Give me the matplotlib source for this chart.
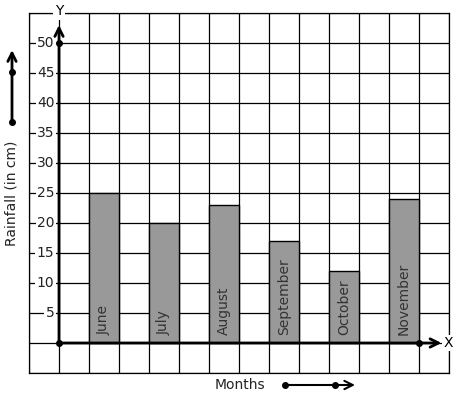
import matplotlib.pyplot as plt
from matplotlib.lines import Line2D

# Rainfall per month (cm)
months = ['June', 'July', 'August', 'September', 'October', 'November']
rainfall = [25, 20, 23, 17, 12, 24]
y_ticks = [5, 10, 15, 20, 25, 30, 35, 40, 45, 50]

W, H = 457, 399
fig = plt.figure(figsize=(W / 100, H / 100), dpi=100)
ax = fig.add_axes([29 / W, 1 - 373 / H, 420 / W, 360 / H])
ax.set_xlim(-1, 13)
ax.set_ylim(-5, 55)

# Square grid
for gx in range(-1, 14):
    ax.axvline(gx, color='black', lw=0.9, zorder=1)
for gy in range(-5, 56, 5):
    ax.axhline(gy, color='black', lw=0.9, zorder=1)
ax.set_xticks([])
ax.set_yticks([])
for s in ax.spines.values():
    s.set_linewidth(0.9)

# Bars: one column gap between each
positions = [1 + 2 * i for i in range(len(months))]
ax.bar(positions, rainfall, width=1, align='edge', color='#999999',
       edgecolor='black', linewidth=1, zorder=2)
for p, m in zip(positions, months):
    ax.text(p + 0.5, 1.3, m, rotation=90, ha='center', va='bottom',
            fontsize=10, color='#333333', zorder=4)

# Axes with arrows
ax.annotate('', xy=(12.75, 0), xytext=(0, 0),
            arrowprops=dict(arrowstyle='->', lw=2, color='black',
                            shrinkA=0, shrinkB=0, mutation_scale=15), zorder=5)
ax.annotate('', xy=(0, 53), xytext=(0, 0),
            arrowprops=dict(arrowstyle='->', lw=2, color='black',
                            shrinkA=0, shrinkB=0, mutation_scale=15), zorder=5)
ax.plot([0, 0, 12], [0, 50, 0], 'o', color='black', ms=4, zorder=6, clip_on=False)

white = dict(facecolor='white', edgecolor='none', pad=1)
for t in y_ticks:
    ax.text(-0.15, t, str(t), ha='right', va='center', fontsize=10,
            color='#222222', bbox=white, zorder=3)
ax.text(12.98, 0, 'X', ha='center', va='center', fontsize=10, bbox=white,
        zorder=6, clip_on=False)
ax.text(0, 55.3, 'Y', ha='center', va='center', fontsize=10, bbox=white,
        zorder=6, clip_on=False)

# Outside labels and arrows (figure pixel coords, origin bottom-left)
fig.text(12 / W, 1 - 193 / H, 'Rainfall (in cm)', rotation=90,
         ha='center', va='center', fontsize=10, color='#222222')
fig.text(240 / W, 1 - 385 / H, 'Months', ha='center', va='center',
         fontsize=10, color='#222222')

ax.annotate('', xy=(12, H - 50), xytext=(12, H - 122), xycoords='figure pixels',
            arrowprops=dict(arrowstyle='->', lw=2, color='black',
                            shrinkA=0, shrinkB=0, mutation_scale=15))
ax.annotate('', xy=(355, H - 385), xytext=(285, H - 385), xycoords='figure pixels',
            arrowprops=dict(arrowstyle='->', lw=1.5, color='black',
                            shrinkA=0, shrinkB=0, mutation_scale=15))
for (px, py) in [(12, 72), (12, 122), (285, 385), (335, 385)]:
    fig.add_artist(Line2D([px / W], [1 - py / H], marker='o', ms=4,
                          color='black', transform=fig.transFigure))

fig.savefig('out.png', dpi=100)
